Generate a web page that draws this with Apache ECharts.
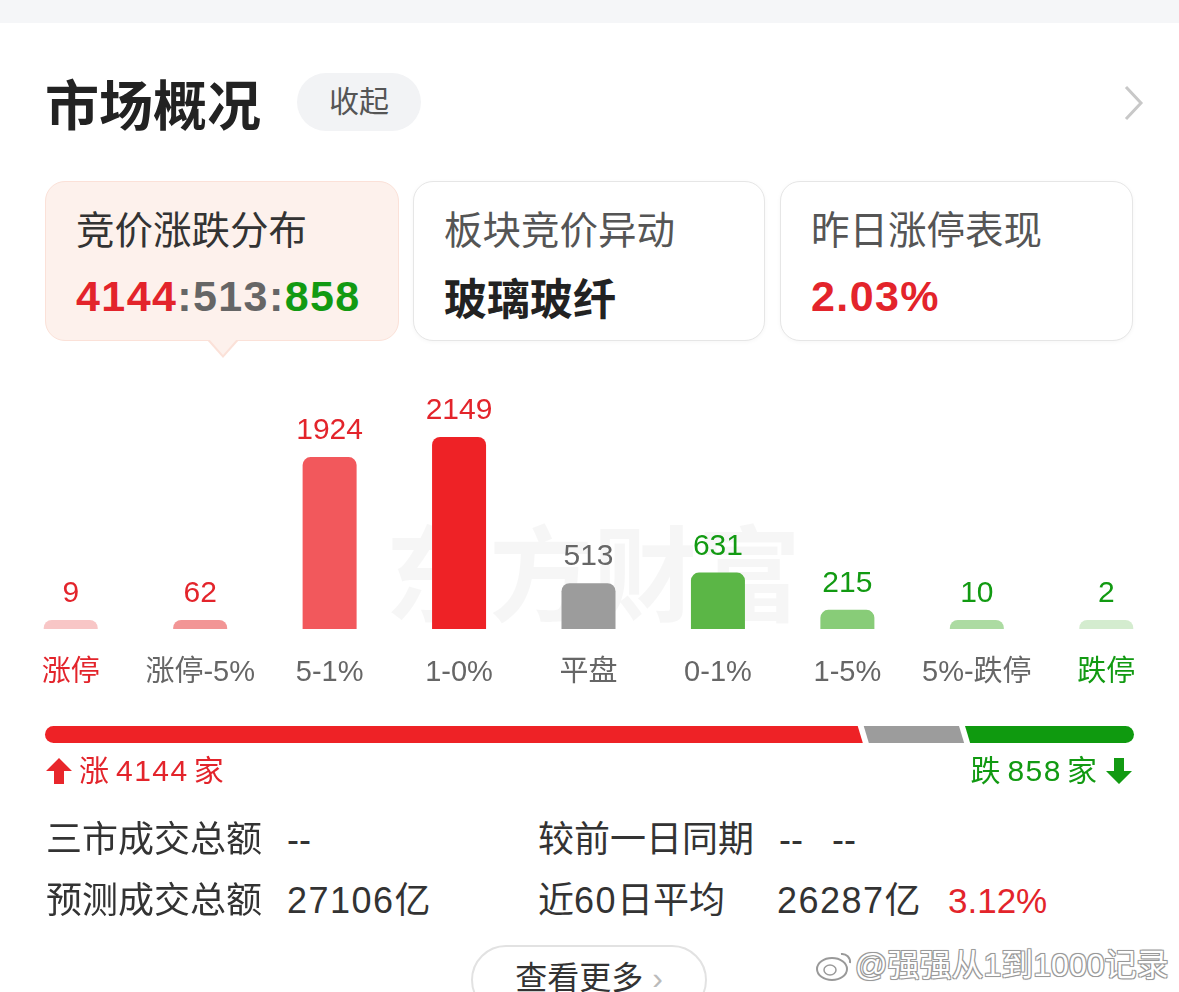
<!DOCTYPE html>
<html><head><meta charset="utf-8">
<script src="https://cdn.jsdelivr.net/npm/echarts@6/dist/echarts.min.js"></script>
<style>
html,body{margin:0;padding:0;width:1179px;height:992px;overflow:hidden;background:#fff;font-family:"Liberation Sans","Noto Sans CJK SC",sans-serif;}
.abs{position:absolute;white-space:nowrap;}
#topband{left:0;top:0;width:1179px;height:23px;background:#f5f6f8;}
#title{left:45px;top:68px;font-size:54px;font-weight:bold;color:#222;line-height:70px;font-family:"Noto Sans CJK SC";}
#collapse{left:297px;top:73px;width:124px;height:58px;border-radius:29px;background:#f2f3f5;color:#555;font-size:30px;line-height:58px;text-align:center;}
#chev{left:1120px;top:84px;}
.card{position:absolute;top:181px;height:160px;border-radius:20px;box-sizing:border-box;}
#c1{left:45px;width:354px;background:#fdf1ec;border:1.5px solid #fbe1d8;}
#c2{left:413px;width:352px;background:#fff;border:1.5px solid #e6e6e6;box-shadow:0 1px 4px rgba(0,0,0,0.04);}
#c3{left:780px;width:353px;background:#fff;border:1.5px solid #e6e6e6;box-shadow:0 1px 4px rgba(0,0,0,0.04);}
.ct{position:absolute;left:30px;top:24px;font-size:38.5px;color:#333;line-height:50px;}
.cv{position:absolute;left:30px;top:88px;font-size:43px;font-weight:bold;line-height:52px;letter-spacing:1.4px;}
#ptr{left:207px;top:340px;width:0;height:0;border-left:16px solid transparent;border-right:16px solid transparent;border-top:18px solid #fbe1d8;}
#ptr2{left:209px;top:339px;width:0;height:0;border-left:14px solid transparent;border-right:14px solid transparent;border-top:16px solid #fdf1ec;}
#chart{position:absolute;left:0;top:360px;width:1179px;height:440px;}
.st{font-size:36px;color:#333;line-height:44px;}
.num{letter-spacing:1.5px;}
#more{left:471px;top:945px;width:236px;height:70px;border:2px solid #e2e2e2;border-radius:35px;box-sizing:border-box;text-align:center;font-size:32px;color:#333;line-height:62px;}
#wb{left:855px;top:943px;font-size:32px;color:#fff;line-height:44px;text-shadow:-1px -1px 0 #999,1px -1px 0 #999,-1px 1px 0 #999,1px 1px 0 #999,0 0 2px #888;}
</style></head>
<body>
<div id="topband" class="abs"></div>
<div id="title" class="abs">市场概况</div>
<div id="collapse" class="abs">收起</div>
<div id="chev" class="abs"><svg width="26" height="38"><polyline points="6,3 21,19 6,35" fill="none" stroke="#c8c8c8" stroke-width="3"/></svg></div>

<div id="c1" class="card"><div class="ct">竞价涨跌分布</div><div class="cv"><span style="color:#e3242b">4144</span><span style="color:#666">:513:</span><span style="color:#129a12">858</span></div></div>
<div id="ptr" class="abs"></div><div id="ptr2" class="abs"></div>
<div id="c2" class="card"><div class="ct" style="color:#555">板块竞价异动</div><div class="cv" style="color:#222;font-family:'Noto Sans CJK SC';letter-spacing:0">玻璃玻纤</div></div>
<div id="c3" class="card"><div class="ct" style="color:#555">昨日涨停表现</div><div class="cv" style="color:#e3242b">2.03%</div></div>

<div id="chart"></div>

<div class="abs" style="left:46px;top:751px;font-size:30px;color:#e3242b;line-height:40px;"><svg width="27" height="28" style="vertical-align:-4px;margin-right:6px"><polygon points="13,1 26,14 18,14 18,27 8,27 8,14 0,14" fill="#e8262b"/></svg>涨<span class="num" style="margin:0 5px 0 7px">4144</span>家</div>
<div class="abs" style="right:46px;top:751px;font-size:30px;color:#129a12;line-height:40px;">跌<span class="num" style="margin:0 5px 0 7px">858</span>家<svg width="27" height="28" style="vertical-align:-4px;margin-left:9px"><polygon points="8,1 18,1 18,14 26,14 13,27 0,14 8,14" fill="#129a12"/></svg></div>

<div class="abs st" style="left:46px;top:818px;">三市成交总额</div>
<div class="abs st" style="left:287px;top:818px;">--</div>
<div class="abs st" style="left:538px;top:818px;">较前一日同期</div>
<div class="abs st" style="left:779px;top:818px;">--</div>
<div class="abs st" style="left:832px;top:818px;">--</div>
<div class="abs st" style="left:46px;top:879px;">预测成交总额</div>
<div class="abs st" style="left:287px;top:879px;"><span class="num">27106</span>亿</div>
<div class="abs st" style="left:538px;top:879px;">近<span class="num">60</span>日平均</div>
<div class="abs st" style="left:777px;top:879px;"><span class="num">26287</span>亿</div>
<div class="abs st" style="left:948px;top:879px;color:#e3242b;font-size:35px">3.12%</div>
<div id="more" class="abs">查看更多 <span style="color:#bbb">›</span></div>
<div class="abs" style="left:815px;top:950px;"><svg width="38" height="32"><ellipse cx="17" cy="19" rx="15" ry="11" fill="#fff" stroke="#999" stroke-width="2"/><ellipse cx="15" cy="20" rx="6" ry="5" fill="none" stroke="#999" stroke-width="1.5"/><path d="M26,4 a8,8 0 0 1 9,9" fill="none" stroke="#999" stroke-width="2"/></svg></div>
<div id="wb" class="abs">@强强从1到1000记录</div>

<script>
const categories = ['涨停','涨停-5%','5-1%','1-0%','平盘','0-1%','1-5%','5%-跌停','跌停'];
const counts = [9, 62, 1924, 2149, 513, 631, 215, 10, 2];
const barColors = ['#f8c6c6','#f29595','#f2585c','#ee2226','#9c9c9c','#5bb646','#88cc78','#acdba2','#d4eccf'];
const valueColors = ['#e3242b','#e3242b','#e3242b','#e3242b','#666666','#129a12','#129a12','#129a12','#129a12'];
const axisLabelColors = ['#e3242b','#666666','#666666','#666666','#666666','#666666','#666666','#666666','#129a12'];
const upCount = 4144, flatCount = 513, downCount = 858;

const total = upCount + flatCount + downCount;
const chart = echarts.init(document.getElementById('chart'));
const FONT = '"Liberation Sans","Noto Sans CJK SC",sans-serif';
chart.setOption({
  animation: false,
  graphic: [{
    type: 'text', left: 385, top: 162, z: -1,
    style: { text: '东方财富', fontSize: 104, fontWeight: 'bold', fill: 'rgba(0,0,0,0.035)', fontFamily: '"Noto Sans CJK SC"' }
  }],
  grid: [
    { left: 6, right: 8, top: 77, height: 192 },
    { left: 45, right: 45, top: 366, height: 17 }
  ],
  xAxis: [
    { type: 'category', gridIndex: 0,
      data: categories.map((c, i) => ({ value: c, textStyle: { color: axisLabelColors[i] } })),
      axisLine: { show: false }, axisTick: { show: false },
      axisLabel: { fontSize: 29, margin: 29, fontFamily: FONT, interval: 0 } },
    { type: 'value', gridIndex: 1, min: 0, max: total, show: false }
  ],
  yAxis: [
    { type: 'value', gridIndex: 0, min: 0, max: 'dataMax', show: false },
    { type: 'category', gridIndex: 1, data: [''], show: false }
  ],
  series: [
    { type: 'bar', xAxisIndex: 0, yAxisIndex: 0, barWidth: 54, barMinHeight: 9,
      data: counts.map((v, i) => ({
        value: v,
        itemStyle: { color: barColors[i], borderRadius: [8, 8, 0, 0] },
        label: { color: valueColors[i] }
      })),
      label: { show: true, position: 'top', distance: 11, fontSize: 30, fontFamily: FONT }
    },
    { type: 'bar', xAxisIndex: 1, yAxisIndex: 1, stack: 'p', barWidth: 17,
      data: [upCount], itemStyle: { color: '#ee2226', borderRadius: [8.5, 0, 0, 8.5] } },
    { type: 'bar', xAxisIndex: 1, yAxisIndex: 1, stack: 'p', barWidth: 17,
      data: [flatCount], itemStyle: { color: '#9c9c9c' } },
    { type: 'bar', xAxisIndex: 1, yAxisIndex: 1, stack: 'p', barWidth: 17,
      data: [downCount], itemStyle: { color: '#0f9a0f', borderRadius: [0, 8.5, 8.5, 0] } },
    { type: 'custom', xAxisIndex: 1, yAxisIndex: 1, z: 10,
      data: [[upCount, 0], [upCount + flatCount, 0]],
      renderItem: function (params, api) {
        const p = api.coord([api.value(0), 0]);
        const h = 10, w = 3, s = 3;
        return { type: 'polygon', shape: { points: [
          [p[0] - w - s, p[1] - h], [p[0] + w - s, p[1] - h],
          [p[0] + w + s, p[1] + h], [p[0] - w + s, p[1] + h]
        ] }, style: { fill: '#ffffff' } };
      }
    }
  ]
});
</script>
</body></html>
